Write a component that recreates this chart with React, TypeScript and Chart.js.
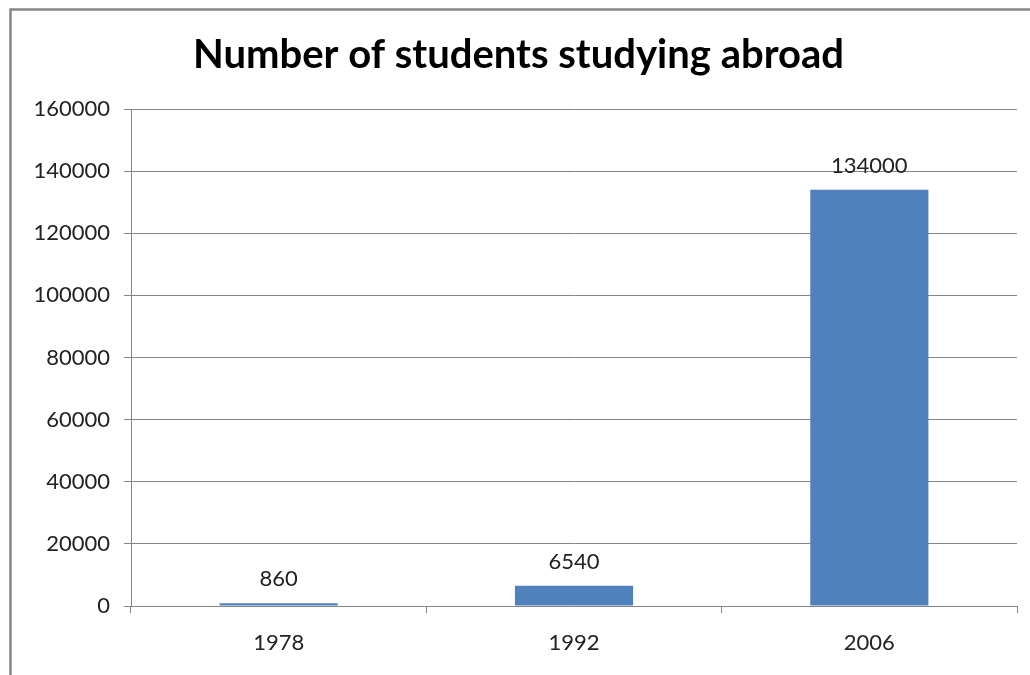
import React, { useEffect, useRef } from "react";
import { Chart, registerables } from "chart.js";

Chart.register(...registerables);

const categories = ["1978", "1992", "2006"];
const students = [860, 6540, 134000];
const yTicks = [0, 20000, 40000, 60000, 80000, 100000, 120000, 140000, 160000];
const titleText = "Number of students studying abroad";

const FONT = "Lato, 'Open Sans', sans-serif";

const frame = {
  id: "frame",
  beforeDraw(chart: any) {
    const ctx = chart.ctx;
    ctx.save();
    ctx.fillStyle = "#ffffff";
    ctx.fillRect(0, 0, chart.width, chart.height);
    ctx.strokeStyle = "#868686";
    ctx.lineWidth = 2.5;
    ctx.strokeRect(10.5, 9.5, 1200, 1000);
    ctx.restore();
  },
};

const valueLabels = {
  id: "valueLabels",
  afterDatasetsDraw(chart: any) {
    const ctx = chart.ctx;
    const meta = chart.getDatasetMeta(0);
    ctx.save();
    ctx.font = "22px " + FONT;
    ctx.fillStyle = "#222222";
    ctx.textAlign = "center";
    ctx.textBaseline = "middle";
    meta.data.forEach((bar: any, i: number) => {
      ctx.fillText(String(students[i]), bar.x, bar.y - 24);
    });
    ctx.restore();
  },
};

export default function App() {
  const ref = useRef<HTMLCanvasElement>(null);
  useEffect(() => {
    if (!ref.current) return;
    const chart = new Chart(ref.current, {
      type: "bar",
      data: {
        labels: categories,
        datasets: [
          {
            data: students,
            backgroundColor: "#4F81BD",
            borderWidth: 0,
            barPercentage: 0.4,
            categoryPercentage: 1,
          },
        ],
      },
      options: {
        animation: false,
        responsive: false,
        maintainAspectRatio: false,
        layout: { padding: { left: 20, right: 13, top: 0, bottom: 0 } },
        plugins: {
          legend: { display: false },
          tooltip: { enabled: false },
          title: {
            display: true,
            text: titleText,
            color: "#000000",
            font: { family: FONT, size: 40, weight: "bold" },
            padding: { top: 31, bottom: 30 },
          },
        },
        scales: {
          x: {
            grid: {
              display: true,
              drawOnChartArea: false,
              drawTicks: true,
              tickLength: 7,
              color: "#868686",
              offset: true,
            },
            border: { display: true, color: "#868686" },
            ticks: {
              color: "#222222",
              font: { family: FONT, size: 22 },
              padding: 17,
            },
            afterFit(scale: any) {
              scale.height = 69;
            },
          },
          y: {
            min: 0,
            max: 160000,
            afterBuildTicks(scale: any) {
              scale.ticks = yTicks.map((v) => ({ value: v }));
            },
            grid: {
              color: "#868686",
              tickLength: 7,
              drawTicks: true,
            },
            border: { display: true, color: "#868686" },
            ticks: {
              color: "#222222",
              font: { family: FONT, size: 22 },
              padding: 14,
              callback: (v: any) => String(v),
            },
            afterFit(scale: any) {
              scale.width = 111;
            },
          },
        },
      },
      plugins: [frame, valueLabels],
    });
    return () => chart.destroy();
  }, []);
  return (
    <div style={{ position: "absolute", left: 0, top: 0, width: 1030, height: 675 }}>
      <canvas ref={ref} width={1030} height={675} />
    </div>
  );
}
